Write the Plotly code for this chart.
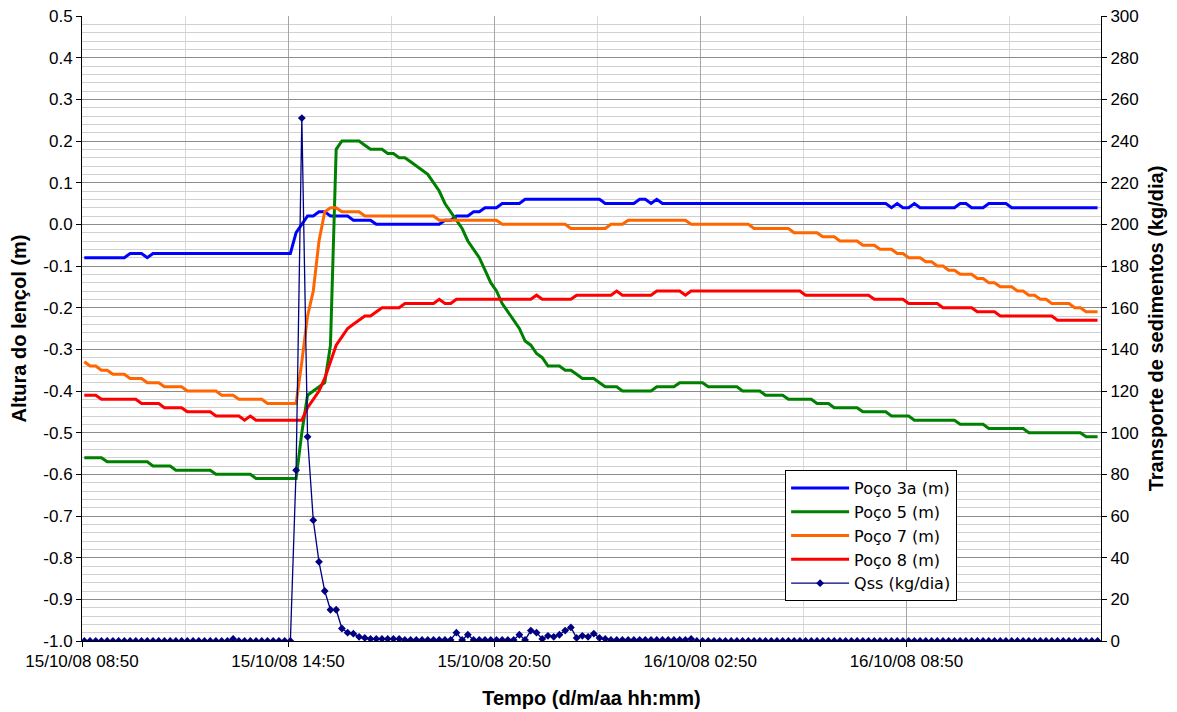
import pandas as pd
import plotly.graph_objects as go

# ---------------- data (10-minute readings) ----------------
start_time = "2008-10-15 08:54"
n_points = 178
step = "10min"

# run-length encoded well levels (m): value, number of consecutive readings
poco3a_levels = [-0.08, -0.07, -0.08, -0.07, -0.02, 0.00, 0.02, 0.03, 0.02, 0.01, 0.00, 0.01, 0.02, 0.03,
                 0.04, 0.05, 0.06, 0.05, 0.06, 0.05, 0.06, 0.05, 0.04, 0.05, 0.04, 0.05, 0.04, 0.05,
                 0.04, 0.05, 0.04]
poco3a_counts = [8, 3, 1, 25, 1, 1, 2, 2, 4, 4, 12, 2, 3, 2,
                 3, 4, 14, 6, 2, 1, 1, 40, 1, 1, 2, 1, 7, 2,
                 3, 4, 16]

poco5_levels = [-0.56, -0.57, -0.58, -0.59, -0.60, -0.61,
                -0.50, -0.41, -0.40, -0.39, -0.38, -0.29,
                0.18, 0.20, 0.19, 0.18, 0.17, 0.16,
                0.15, 0.14, 0.13, 0.12, 0.10, 0.08, 0.05, 0.03, 0.01, -0.01,
                -0.04, -0.06, -0.08, -0.11, -0.14, -0.16, -0.19, -0.21, -0.23, -0.25,
                -0.28, -0.29, -0.31, -0.32,
                -0.34, -0.35, -0.36, -0.37, -0.38, -0.39, -0.40,
                -0.39, -0.38, -0.39, -0.40, -0.41, -0.42, -0.43, -0.44, -0.45, -0.46,
                -0.47, -0.48, -0.49, -0.50, -0.51]
poco5_counts = [4, 8, 4, 7, 7, 8,
                1, 1, 1, 1, 1, 1,
                1, 4, 1, 3, 2, 2,
                1, 1, 1, 1, 1, 1, 1, 1, 1, 1,
                1, 1, 1, 1, 1, 1, 1, 1, 1, 1,
                1, 1, 1, 1,
                3, 2, 1, 3, 1, 3, 6,
                4, 5, 6, 4, 4, 5, 3, 5, 5, 4,
                8, 5, 7, 10, 3]

poco7_levels = [-0.33, -0.34, -0.35, -0.36, -0.37, -0.38, -0.39, -0.40, -0.41, -0.42, -0.43,
                -0.33, -0.22, -0.16, -0.04, 0.03,
                0.04, 0.03, 0.02, 0.01, 0.00,
                -0.01, 0.00, 0.01, 0.00, -0.01,
                -0.02, -0.03, -0.04, -0.05, -0.06, -0.07, -0.08, -0.09, -0.10, -0.11,
                -0.12, -0.13, -0.14, -0.15, -0.16, -0.17, -0.18, -0.19, -0.20, -0.21]
poco7_counts = [1, 2, 2, 3, 3, 3, 4, 6, 3, 5, 6,
                1, 1, 1, 1, 1,
                2, 4, 13, 11, 12,
                7, 3, 11, 11, 7,
                5, 3, 4, 3, 3, 2, 3, 2, 2, 2,
                3, 2, 2, 3, 2, 2, 2, 4, 2, 3]

poco8_levels = [-0.41, -0.42, -0.43, -0.44, -0.45, -0.46,
                -0.47, -0.46, -0.47,
                -0.44, -0.42, -0.40, -0.37, -0.33, -0.29, -0.27, -0.25, -0.24, -0.23,
                -0.22, -0.21, -0.20, -0.19, -0.18, -0.19, -0.18,
                -0.17, -0.18, -0.17, -0.16, -0.17, -0.16, -0.17, -0.16,
                -0.17, -0.18, -0.19, -0.20, -0.21, -0.22, -0.23]
poco8_counts = [3, 7, 4, 4, 5, 5,
                1, 1, 9,
                1, 1, 1, 1, 1, 1, 1, 1, 1, 1,
                2, 1, 4, 6, 1, 2, 14,
                1, 6, 7, 1, 6, 5, 1, 20,
                12, 6, 6, 6, 4, 10, 8]

# suspended sediment transport (kg/dia), one value per reading
qss = ([0] * 26 + [1] + [0] * 10 +
       [82, 251, 98, 58, 38, 24, 15, 15, 6, 4, 3.5, 2, 1.5] +
       [1] * 6 + [0.5] * 9 +
       [4, 0.5, 3] + [0.5] * 8 +
       [3, 0.5, 5, 4, 1, 2.5, 2, 3, 5, 6.5, 1.5, 2.5, 2, 3.5, 1.5, 1] +
       [0.5] * 14 + [1] + [0] * 71)

y_tick_values = [0.5, 0.4, 0.3, 0.2, 0.1, 0.0, -0.1, -0.2, -0.3, -0.4, -0.5, -0.6, -0.7, -0.8, -0.9, -1.0]
y_tick_labels = ["0.5", "0.4", "0.3", "0.2", "0.1", "0.0", "-0.1", "-0.2", "-0.3", "-0.4",
                 "-0.5", "-0.6", "-0.7", "-0.8", "-0.9", "-1.0"]


def expand(levels, counts):
    out = []
    for v, c in zip(levels, counts):
        out.extend([v] * c)
    return out


times = pd.date_range(start_time, periods=n_points, freq=step)

FONT = "Liberation Sans, Arial, sans-serif"

series = [
    ("Poço 3a (m)", expand(poco3a_levels, poco3a_counts), "#0000FF"),
    ("Poço 5 (m)", expand(poco5_levels, poco5_counts), "#008000"),
    ("Poço 7 (m)", expand(poco7_levels, poco7_counts), "#FF6600"),
    ("Poço 8 (m)", expand(poco8_levels, poco8_counts), "#FF0000"),
]

fig = go.Figure()
for name, vals, col in series:
    fig.add_trace(go.Scatter(x=times[:len(vals)], y=vals, name=name, mode="lines",
                             line=dict(color=col, width=3), yaxis="y"))

fig.add_trace(go.Scatter(x=times[:len(qss)], y=qss, name="Qss (kg/dia)", mode="lines+markers",
                         line=dict(color="#000080", width=1.3),
                         marker=dict(symbol="diamond", size=6, color="#000080"),
                         yaxis="y2"))

# the page body adds an 8 px offset; margins compensate for it
fig.update_layout(
    width=1177, height=712,
    margin=dict(l=74, r=84, t=8, b=79, autoexpand=False),
    paper_bgcolor="white", plot_bgcolor="white",
    font=dict(family=FONT, color="black", size=17),
    showlegend=True,
    legend=dict(x=0.69, y=0.2735, xanchor="left", yanchor="top",
                bgcolor="white", bordercolor="black", borderwidth=1,
                font=dict(family="DejaVu Sans, sans-serif", size=16, color="black"),
                tracegroupgap=0, itemwidth=58),
    xaxis=dict(type="date", range=["2008-10-15 08:50", "2008-10-16 14:30"],
               tick0="2008-10-15 08:50", dtick=6 * 3600 * 1000,
               tickformat="%d/%m/%y %H:%M", automargin=False, ticklabeloverflow="allow",
               showgrid=True, gridcolor="#a6a6a6", gridwidth=1,
               minor=dict(tick0="2008-10-15 08:50", dtick=3 * 3600 * 1000,
                          showgrid=True, gridcolor="#d9d9d9", gridwidth=1),
               ticks="outside", ticklen=5, tickcolor="black",
               showline=True, linecolor="black", linewidth=1, zeroline=False,
               tickfont=dict(size=17),
               title=dict(text="<b>Tempo (d/m/aa hh:mm)</b>", font=dict(size=20), standoff=20)),
    yaxis=dict(range=[-1.0, 0.5], tickvals=y_tick_values, ticktext=y_tick_labels,
               automargin=False, ticklabeloverflow="allow",
               showgrid=True, gridcolor="#8c8c8c", gridwidth=1,
               minor=dict(tick0=-1.0, dtick=0.02, showgrid=True, gridcolor="#d0d0d0", gridwidth=1),
               ticks="outside", ticklen=5, tickcolor="black",
               showline=True, linecolor="black", linewidth=1, zeroline=False,
               tickfont=dict(size=17),
               title=dict(text="<b>Altura do lençol (m)</b>", font=dict(size=20), standoff=11)),
    yaxis2=dict(range=[0, 300], dtick=20, tick0=0, overlaying="y", side="right",
                automargin=False, ticklabeloverflow="allow",
                showgrid=False, zeroline=False,
                ticks="outside", ticklen=5, tickcolor="black",
                showline=True, linecolor="black", linewidth=1,
                tickfont=dict(size=17),
                title=dict(text="<b>Transporte de sedimentos (kg/dia)</b>", font=dict(size=20), standoff=11)),
)

fig.write_html("out.html")
